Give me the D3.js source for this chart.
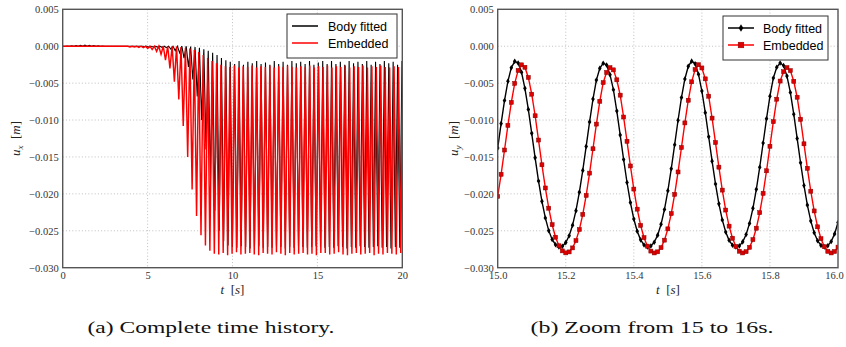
<!DOCTYPE html>
<html>
<head>
<meta charset="utf-8">
<script src="https://cdn.jsdelivr.net/npm/d3@7/dist/d3.min.js"></script>
<style>
html,body{margin:0;padding:0;background:#fff;}
svg{display:block;}
</style>
</head>
<body>
<svg id="chart" width="846" height="347"></svg>
<script>
// ---------- DATA ----------
const yTicks = [-0.030, -0.025, -0.020, -0.015, -0.010, -0.005, 0.000, 0.005];
const yTickLabels = ["\u22120.030", "\u22120.025", "\u22120.020", "\u22120.015", "\u22120.010", "\u22120.005", "0.000", "0.005"];
const leftXTicks = [0, 5, 10, 15, 20];
const leftXTickLabels = ["0", "5", "10", "15", "20"];
const rightXTicks = [15.0, 15.2, 15.4, 15.6, 15.8, 16.0];
const rightXTickLabels = ["15.0", "15.2", "15.4", "15.6", "15.8", "16.0"];
const seriesNames = ["Body fitted", "Embedded"];
const captions = ["(a) Complete time history.", "(b) Zoom from 15 to 16s."];

// Left panel: oscillation extremes per cycle
const leftBlackFirstTrough = 0.144, leftBlackPeriod = 0.2593;
const leftRedFirstTrough = 0.041, leftRedPeriod = 0.2614;
const leftBlackTroughs = [
  0,0,0,0,0,0,0,0,0,0,
  0,0,0,0,0,0,0,0,
  -0.00005,-0.0001,-0.0001,-0.00012,-0.00015,-0.0002,-0.0004,-0.0006,-0.0009,-0.0016,
  -0.0028,-0.0045,-0.0068,-0.0100,-0.0140,-0.0184,-0.0223,-0.0250,-0.0264,-0.0270,
  -0.0272,-0.0273,-0.0271,-0.0272,-0.0274,-0.0272,-0.0271,-0.0273,-0.0272,-0.0273,
  -0.0271,-0.0272,-0.0274,-0.0272,-0.0273,-0.0271,-0.0272,-0.0273,-0.0272,-0.0271,
  -0.0272,-0.0273,-0.0272,-0.0273,-0.0271,-0.0272,-0.0274,-0.0272,-0.0273,-0.0271,
  -0.0272,-0.0273,-0.0272,-0.0271,-0.0273,-0.0272,-0.0274,-0.0272,-0.0273
];
const leftBlackPeaks = [
  0.00002,0.00005,0.0001,0.00012,0.00014,0.00013,0.0001,0.00006,0.00003,0,
  0,0,0,0,0,0,0,0,0,0,
  0,0,0,0,0,0,0,0,
  -0.00005,-0.0001,-0.0002,-0.0004,-0.0006,-0.0009,-0.0012,-0.0016,-0.0019,-0.0021,
  -0.0024,-0.0020,-0.0025,-0.0021,-0.0023,-0.0020,-0.0024,-0.0022,-0.0025,-0.0020,
  -0.0024,-0.0021,-0.0025,-0.0020,-0.0023,-0.0021,-0.0024,-0.0020,-0.0025,-0.0022,
  -0.0020,-0.0024,-0.0020,-0.0024,-0.0021,-0.0025,-0.0020,-0.0023,-0.0021,-0.0024,
  -0.0020,-0.0025,-0.0021,-0.0024,-0.0020,-0.0023,-0.0021,-0.0025,-0.0020
];
const leftRedTroughs = [
  0,0,0,0,0,0,0,0,0,0,
  0,0,0,0,0,
  -0.0001,-0.0001,-0.00015,-0.0002,-0.0003,-0.00045,-0.0007,-0.0011,-0.0019,-0.0030,
  -0.0048,-0.0072,-0.0108,-0.0150,-0.0194,-0.0230,-0.0256,-0.0270,-0.0277,-0.0281,
  -0.0282,-0.0280,-0.0283,-0.0281,-0.0279,-0.0282,-0.0281,-0.0280,-0.0282,-0.0283,
  -0.0280,-0.0281,-0.0282,-0.0279,-0.0281,-0.0283,-0.0280,-0.0282,-0.0281,-0.0280,
  -0.0282,-0.0281,-0.0283,-0.0280,-0.0280,-0.0282,-0.0281,-0.0279,-0.0282,-0.0283,
  -0.0281,-0.0280,-0.0282,-0.0281,-0.0280,-0.0283,-0.0281,-0.0282,-0.0280,-0.0281,-0.0282,-0.0280
];
const leftRedPeaks = [
  0,0,0,0,0,0,0,0,0,0,
  0,0,0,0,0,0,0,0,0,0,
  0,0,0,0,0,
  -0.00005,-0.0001,-0.0002,-0.0003,-0.0005,-0.0008,-0.0012,-0.0016,-0.0020,-0.0023,
  -0.0025,-0.0027,-0.0028,-0.0026,-0.0029,-0.0027,-0.0028,-0.0026,-0.0029,-0.0027,
  -0.0028,-0.0026,-0.0029,-0.0027,-0.0028,-0.0026,-0.0028,-0.0029,-0.0027,-0.0028,
  -0.0026,-0.0029,-0.0027,-0.0028,-0.0026,-0.0029,-0.0027,-0.0028,-0.0026,-0.0029,
  -0.0027,-0.0028,-0.0026,-0.0029,-0.0027,-0.0028,-0.0026,-0.0028,-0.0029,-0.0027,-0.0028,-0.0026
];

// Right panel: sampled every 0.01 s from 15.00 to 16.00
const rightTimes = d3.range(0, 101).map(i => 15 + i / 100);
const rightBlack = [
  -0.01380,-0.01048,-0.00736,-0.00475,-0.00291,-0.00205,-0.00227,-0.00353,-0.00571,-0.00856,
  -0.01180,-0.01512,-0.01826,-0.02101,-0.02326,-0.02498,-0.02617,-0.02689,-0.02719,-0.02710,
  -0.02660,-0.02567,-0.02424,-0.02227,-0.01977,-0.01682,-0.01357,-0.01025,-0.00716,-0.00459,
  -0.00300,-0.00230,-0.00255,-0.00385,-0.00589,-0.00878,-0.01203,-0.01534,-0.01846,-0.02118,
  -0.02340,-0.02507,-0.02623,-0.02692,-0.02719,-0.02707,-0.02655,-0.02559,-0.02412,-0.02212,
  -0.01958,-0.01660,-0.01334,-0.01003,-0.00696,-0.00444,-0.00273,-0.00202,-0.00238,-0.00379,
  -0.00607,-0.00900,-0.01226,-0.01557,-0.01866,-0.02135,-0.02353,-0.02517,-0.02629,-0.02695,
  -0.02720,-0.02705,-0.02650,-0.02551,-0.02400,-0.02196,-0.01939,-0.01639,-0.01311,-0.00981,
  -0.00677,-0.00430,-0.00285,-0.00228,-0.00262,-0.00405,-0.00626,-0.00921,-0.01249,-0.01579,
  -0.01886,-0.02152,-0.02366,-0.02526,-0.02635,-0.02698,-0.02720,-0.02703,-0.02645,-0.02542,-0.02388
];
const rightRed = [
  -0.02035,-0.01735,-0.01406,-0.01072,-0.00761,-0.00504,-0.00328,-0.00252,-0.00285,-0.00423,
  -0.00650,-0.00942,-0.01271,-0.01606,-0.01920,-0.02194,-0.02418,-0.02587,-0.02703,-0.02772,
  -0.02799,-0.02786,-0.02732,-0.02633,-0.02483,-0.02278,-0.02021,-0.01719,-0.01389,-0.01055,
  -0.00746,-0.00493,-0.00355,-0.00290,-0.00320,-0.00455,-0.00663,-0.00959,-0.01288,-0.01622,
  -0.01935,-0.02207,-0.02427,-0.02593,-0.02708,-0.02775,-0.02800,-0.02785,-0.02729,-0.02627,
  -0.02474,-0.02267,-0.02007,-0.01703,-0.01372,-0.01039,-0.00732,-0.00482,-0.00316,-0.00251,
  -0.00294,-0.00442,-0.00677,-0.00974,-0.01305,-0.01638,-0.01949,-0.02219,-0.02437,-0.02601,
  -0.02712,-0.02777,-0.02800,-0.02783,-0.02725,-0.02620,-0.02465,-0.02255,-0.01993,-0.01687,
  -0.01355,-0.01022,-0.00718,-0.00472,-0.00345,-0.00290,-0.00330,-0.00475,-0.00691,-0.00990,
  -0.01322,-0.01654,-0.01964,-0.02231,-0.02446,-0.02607,-0.02716,-0.02779,-0.02800,-0.02781,-0.02721
];

// ---------- DRAW ----------
const svg = d3.select("#chart");
const serif = "'Liberation Serif', 'DejaVu Serif', serif";
const sans = "'Liberation Sans', 'DejaVu Sans', sans-serif";
const colBlack = "#000000", colRed = "#ff0000";

const y = d3.scaleLinear().domain([-0.030, 0.005]).range([267.7, 9.3]);
const xL = d3.scaleLinear().domain([0, 20]).range([62.7, 402.3]);
const xR = d3.scaleLinear().domain([15, 16]).range([497.7, 838]);

function buildCycles(first, period, troughs, peaks) {
  const pts = [[0, 0]];
  troughs.forEach((v, i) => {
    pts.push([first + i * period, v]);
    pts.push([first + i * period + period / 2, peaks[i]]);
  });
  return pts;
}

function panel(id, x, xTicks, xLabels, ylabSub, xLabelX, yLabelX) {
  const g = svg.append("g");
  const [x0, x1] = x.range();
  const [y0, y1] = [y.range()[1], y.range()[0]];
  svg.append("clipPath").attr("id", id).append("rect")
    .attr("x", x0).attr("y", y0).attr("width", x1 - x0).attr("height", y1 - y0);
  const grid = g.append("g").attr("stroke", "#b0b0b0").attr("stroke-width", 0.8)
    .attr("stroke-dasharray", "1,2.2");
  grid.selectAll("line.h").data(yTicks.slice(1, -1)).join("line")
    .attr("x1", x0).attr("x2", x1).attr("y1", d => y(d)).attr("y2", d => y(d));
  grid.selectAll("line.v").data(xTicks.slice(1, -1)).join("line")
    .attr("y1", y0).attr("y2", y1).attr("x1", d => x(d)).attr("x2", d => x(d));
  const ya = g.append("g").attr("transform", `translate(${x0},0)`)
    .call(d3.axisLeft(y).tickValues(yTicks).tickSize(0).tickPadding(4)
      .tickFormat((d, i) => yTickLabels[i]));
  ya.select(".domain").remove();
  ya.attr("font-family", null);
  ya.selectAll("text").style("font-family", serif).style("font-size", "10.5px").attr("fill", "#333");
  const xa = g.append("g").attr("transform", `translate(0,${y1})`)
    .call(d3.axisBottom(x).tickValues(xTicks).tickSize(0).tickPadding(4)
      .tickFormat((d, i) => xLabels[i]));
  xa.select(".domain").remove();
  xa.attr("font-family", null);
  xa.selectAll("text").style("font-family", serif).style("font-size", "10.5px").attr("fill", "#333");
  // keep the last tick label inside the page
  xa.selectAll(".tick").filter((d, i, n) => i === n.length - 1 && x(d) > 830)
    .select("text").attr("dx", -4);
  const xl = g.append("text").attr("x", xLabelX).attr("y", 294).attr("text-anchor", "middle")
    .style("font-family", serif).style("font-size", "13px").attr("fill", "#222");
  xl.append("tspan").attr("font-style", "italic").text("t");
  xl.append("tspan").text("\u2002[");
  xl.append("tspan").attr("font-style", "italic").text("s");
  xl.append("tspan").text("]");
  const yl = g.append("text").attr("transform", `translate(${yLabelX},${(y0 + y1) / 2}) rotate(-90)`)
    .attr("text-anchor", "middle").style("font-family", serif).style("font-size", "13px").attr("fill", "#222");
  yl.append("tspan").attr("font-style", "italic").text("u");
  yl.append("tspan").attr("font-style", "italic").style("font-size", "9px").attr("dy", 3).text(ylabSub);
  yl.append("tspan").attr("dy", -3).text("\u2002[");
  yl.append("tspan").attr("font-style", "italic").text("m");
  yl.append("tspan").text("]");
  return g;
}

function frame(x) {
  const [x0, x1] = x.range();
  svg.append("rect").attr("x", x0).attr("y", y.range()[1])
    .attr("width", x1 - x0).attr("height", y.range()[0] - y.range()[1])
    .attr("fill", "none").attr("stroke", "#555").attr("stroke-width", 1.4);
}

// Left panel
panel("clipL", xL, leftXTicks, leftXTickLabels, "x", 232.5, 20);
const lineL = d3.line().x(d => xL(d[0])).y(d => y(d[1]));
const plotL = svg.append("g").attr("clip-path", "url(#clipL)");
plotL.append("path").datum(buildCycles(leftBlackFirstTrough, leftBlackPeriod, leftBlackTroughs, leftBlackPeaks))
  .attr("d", lineL).attr("fill", "none").attr("stroke", colBlack).attr("stroke-width", 1.1);
plotL.append("path").datum(buildCycles(leftRedFirstTrough, leftRedPeriod, leftRedTroughs, leftRedPeaks))
  .attr("d", lineL).attr("fill", "none").attr("stroke", colRed).attr("stroke-width", 1.45);
frame(xL);

// Right panel
panel("clipR", xR, rightXTicks, rightXTickLabels, "y", 668, 458);
const lineR = d3.line().x((d, i) => xR(rightTimes[i])).y(d => y(d));
const plotR = svg.append("g").attr("clip-path", "url(#clipR)");
const diamond = "M0,-2.8L1.8,0L0,2.8L-1.8,0Z";
plotR.append("path").datum(rightBlack).attr("d", lineR).attr("fill", "none")
  .attr("stroke", colBlack).attr("stroke-width", 1.4);
plotR.selectAll("path.mb").data(rightBlack).join("path").attr("class", "mb")
  .attr("d", diamond).attr("transform", (d, i) => `translate(${xR(rightTimes[i])},${y(d)})`)
  .attr("fill", "#000");
plotR.append("path").datum(rightRed).attr("d", lineR).attr("fill", "none")
  .attr("stroke", colRed).attr("stroke-width", 1.4);
plotR.selectAll("rect.mr").data(rightRed).join("rect").attr("class", "mr")
  .attr("x", (d, i) => xR(rightTimes[i]) - 2).attr("y", d => y(d) - 2)
  .attr("width", 4).attr("height", 4).attr("fill", "#dd0000").attr("stroke", "#880000").attr("stroke-width", 0.5);
frame(xR);

// Legends
function legend(bx, by, bw, bh, markers) {
  const g = svg.append("g");
  g.append("rect").attr("x", bx).attr("y", by).attr("width", bw).attr("height", bh)
    .attr("fill", "#fff").attr("stroke", "#333").attr("stroke-width", 1);
  [colBlack, colRed].forEach((c, i) => {
    const yy = by + 12 + i * 17;
    g.append("line").attr("x1", bx + 5).attr("x2", bx + 31).attr("y1", yy).attr("y2", yy)
      .attr("stroke", c).attr("stroke-width", 1.5);
    if (markers) {
      if (i === 0) g.append("path").attr("d", diamond).attr("transform", `translate(${bx + 18},${yy}) scale(1.3)`).attr("fill", "#000");
      else g.append("rect").attr("x", bx + 18 - 2.8).attr("y", yy - 2.8).attr("width", 5.6).attr("height", 5.6)
        .attr("fill", "#dd0000").attr("stroke", "#880000").attr("stroke-width", 0.5);
    }
    g.append("text").attr("x", bx + (markers ? 40 : 41)).attr("y", yy + 4.5)
      .style("font-family", sans).style("font-size", "12.5px").attr("fill", "#000").text(seriesNames[i]);
  });
}
legend(287, 14, 110, 44, false);
legend(723, 16, 105, 44, true);

// Captions
[[211, captions[0], 247], [652, captions[1], 243]].forEach(([cx, t, w]) => {
  svg.append("text").attr("x", cx - w / 2).attr("y", 333)
    .style("font-family", serif).style("font-size", "17px").attr("fill", "#111")
    .attr("textLength", w).attr("lengthAdjust", "spacingAndGlyphs").text(t);
});
</script>
</body>
</html>
